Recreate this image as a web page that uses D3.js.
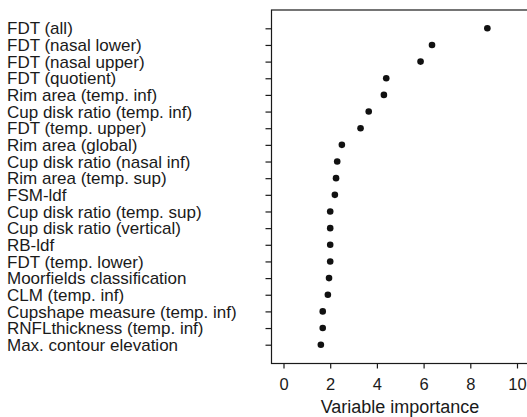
<!DOCTYPE html>
<html>
<head>
<meta charset="utf-8" />
<title>Variable importance</title>
<script src="https://d3js.org/d3.v7.min.js"></script>
<style>
  body { margin: 0; background: #fff; }
  text { font-family: "Liberation Sans", Arial, sans-serif; fill: #1a1a1a; }
</style>
</head>
<body>
<div id="chart"></div>
<script>
// variables, top to bottom
var variables = ["FDT (all)", "FDT (nasal lower)", "FDT (nasal upper)", "FDT (quotient)",
  "Rim area (temp. inf)", "Cup disk ratio (temp. inf)", "FDT (temp. upper)", "Rim area (global)",
  "Cup disk ratio (nasal inf)", "Rim area (temp. sup)", "FSM-ldf", "Cup disk ratio (temp. sup)",
  "Cup disk ratio (vertical)", "RB-ldf", "FDT (temp. lower)", "Moorfields classification",
  "CLM (temp. inf)", "Cupshape measure (temp. inf)", "RNFLthickness (temp. inf)", "Max. contour elevation"];
var importance = [8.73, 6.36, 5.87, 4.4, 4.3, 3.65, 3.3, 2.5, 2.3, 2.25, 2.2,
  2.0, 2.0, 2.0, 2.0, 1.95, 1.9, 1.68, 1.68, 1.6];
var xTicks = [0, 2, 4, 6, 8, 10];

var W = 527, H = 417;
var box = {left: 271.5, top: 10, bottom: 363.5, right: 540};

var svg = d3.select("#chart").append("svg").attr("width", W).attr("height", H);

var x = d3.scaleLinear().domain([0, 10]).range([283.5, 517]);
var y = d3.scalePoint().domain(variables).range([28.3, 344.7]);

// frame
svg.append("rect")
  .attr("x", box.left).attr("y", box.top)
  .attr("width", box.right - box.left).attr("height", box.bottom - box.top)
  .attr("fill", "none").attr("stroke", "#1a1a1a").attr("stroke-width", 1.2);

// y axis ticks + labels (labels left aligned like R dotchart)
var yAxis = svg.append("g").attr("transform", "translate(" + box.left + ",0)")
  .call(d3.axisLeft(y).tickSize(6).tickFormat(""));
yAxis.select(".domain").remove();
yAxis.selectAll("line").attr("stroke", "#1a1a1a").attr("stroke-width", 1.2);

svg.append("g").selectAll("text").data(variables).enter().append("text")
  .attr("x", 7)
  .attr("y", function(d) { return y(d); })
  .attr("dy", "0.36em")
  .style("font-size", "17px")
  .text(function(d) { return d; });

// x axis
var xAxis = svg.append("g").attr("transform", "translate(0," + box.bottom + ")")
  .call(d3.axisBottom(x).tickValues(xTicks).tickSize(5).tickPadding(10).tickFormat(d3.format("d")));
xAxis.select(".domain").remove();
xAxis.selectAll("line").attr("stroke", "#1a1a1a").attr("stroke-width", 1.2);
xAxis.selectAll("text").style("font-size", "16.5px").attr("fill", "#1a1a1a")
  .style("font-family", "'Liberation Sans', Arial, sans-serif");

svg.append("text")
  .attr("x", 400).attr("y", 412.5)
  .attr("text-anchor", "middle")
  .style("font-size", "18px")
  .text("Variable importance");

// dots
svg.append("g").selectAll("circle").data(variables).enter().append("circle")
  .attr("cx", function(d, i) { return x(importance[i]); })
  .attr("cy", function(d) { return y(d); })
  .attr("r", 3.3)
  .attr("fill", "#111");
</script>
</body>
</html>
